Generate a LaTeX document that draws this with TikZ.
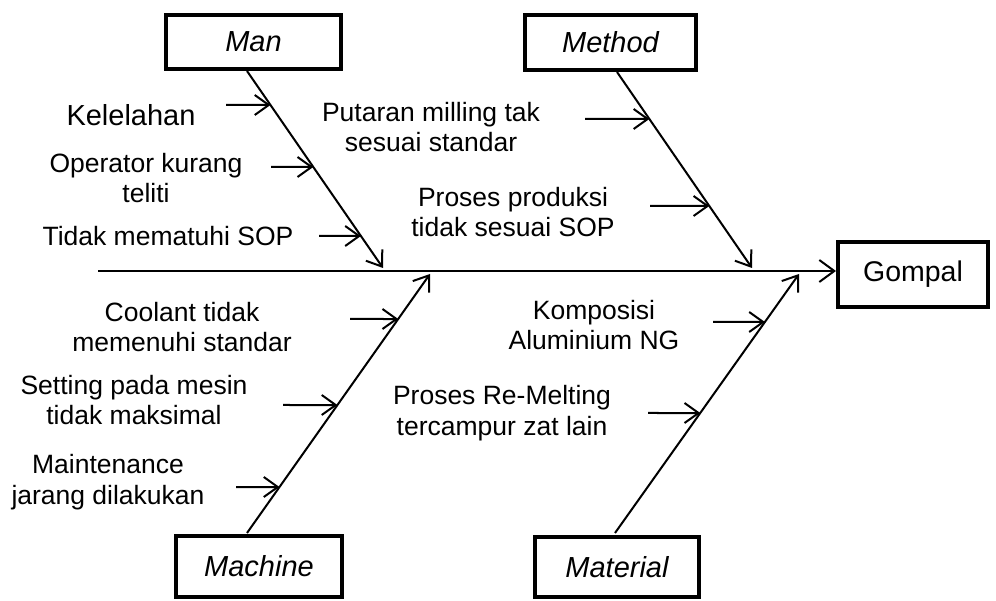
\documentclass[tikz,border=0pt]{standalone}
\usepackage{fontspec}
\setmainfont{Liberation Sans}
\usetikzlibrary{arrows.meta,calc}
\begin{document}
\begin{tikzpicture}[x=1pt,y=-1pt,
  catbox/.style={draw,line width=4pt,inner sep=0pt,font=\fontsize{29}{33}\selectfont\itshape},
  effbox/.style={draw,line width=4pt,inner sep=0pt,font=\fontsize{28.5}{33}\selectfont},
  lbl/.style={align=center,inner sep=0pt,font=\fontsize{26.5}{30.5}\selectfont},
  bigl/.style={align=center,inner sep=0pt,font=\fontsize{29}{33}\selectfont},
  bone/.style={line width=2pt,-{Straight Barb[length=14pt,width=20pt]}},
  spine/.style={line width=2pt,-{Straight Barb[length=15pt,width=22pt]}},
  ]
\useasboundingbox (0,0) rectangle (996,601);
% category boxes
\node[catbox,minimum width=175pt,minimum height=54pt] (man) at (253.5,42) {Man};
\node[catbox,minimum width=171pt,minimum height=55pt] (method) at (610.5,42.5) {Method};
\node[catbox,minimum width=166pt,minimum height=61pt] (machine) at (259,566.5) {Machine};
\node[catbox,minimum width=164pt,minimum height=60pt] (material) at (617,567) {Material};
\node[effbox,minimum width=150pt,minimum height=65pt] (gompal) at (913,274.5) {Gompal};
% spine
\coordinate (spineS) at (98,271);
\draw[spine] (spineS) -- (spineS -| gompal.west);
% bones
\coordinate (manS) at (247,71);
\coordinate (manE) at (383,268);
\coordinate (metS) at (617,72);
\coordinate (metE) at (752,268);
\coordinate (macS) at (247,533);
\coordinate (macE) at (430,274);
\coordinate (matS) at (615,533);
\coordinate (matE) at (799,274);
\draw[bone] (manS) -- (manE);
\draw[bone] (metS) -- (metE);
\draw[bone] (macS) -- (macE);
\draw[bone] (matS) -- (matE);
% cause arrows: Man
\coordinate (m1) at ($(manS)!{(105-71)/(268-71)}!(manE)$);
\coordinate (m2) at ($(manS)!{(167-71)/(268-71)}!(manE)$);
\coordinate (m3) at ($(manS)!{(236-71)/(268-71)}!(manE)$);
\coordinate (m1t) at (226,105);
\coordinate (m2t) at (271,167);
\coordinate (m3t) at (319,236);
\draw[bone] (m1t) -- (m1);
\draw[bone] (m2t) -- (m2);
\draw[bone] (m3t) -- (m3);
% Method
\coordinate (e1) at ($(metS)!{(119-72)/(268-72)}!(metE)$);
\coordinate (e2) at ($(metS)!{(206-72)/(268-72)}!(metE)$);
\coordinate (e1t) at (585,119);
\coordinate (e2t) at (650,206);
\draw[bone] (e1t) -- (e1);
\draw[bone] (e2t) -- (e2);
% Machine
\coordinate (c1) at ($(macS)!{(533-319)/(533-274)}!(macE)$);
\coordinate (c2) at ($(macS)!{(533-405)/(533-274)}!(macE)$);
\coordinate (c3) at ($(macS)!{(533-487)/(533-274)}!(macE)$);
\coordinate (c1t) at (350,319);
\coordinate (c2t) at (283,405);
\coordinate (c3t) at (236,487);
\draw[bone] (c1t) -- (c1);
\draw[bone] (c2t) -- (c2);
\draw[bone] (c3t) -- (c3);
% Material
\coordinate (t1) at ($(matS)!{(533-322)/(533-274)}!(matE)$);
\coordinate (t2) at ($(matS)!{(533-413)/(533-274)}!(matE)$);
\coordinate (t1t) at (713,322);
\coordinate (t2t) at (648,413);
\draw[bone] (t1t) -- (t1);
\draw[bone] (t2t) -- (t2);
% labels
\node[bigl] (kel) at (131,115) {Kelelahan};
\node[lbl] (ope) at (146,178) {Operator kurang\\teliti};
\node[lbl] (sop) at (168,236) {Tidak mematuhi SOP};
\node[lbl] (put) at (431,127) {Putaran milling tak\\sesuai standar};
\node[lbl] (pro) at (513,212) {Proses produksi\\tidak sesuai SOP};
\node[lbl] (coo) at (182,327) {Coolant tidak\\memenuhi standar};
\node[lbl] (set) at (134,400) {Setting pada mesin\\tidak maksimal};
\node[lbl] (mai) at (108,482) {Maintenance\\jarang dilakukan};
\node[lbl] (kom) at (594,325) {Komposisi\\Aluminium NG};
\node[lbl] (rem) at (502,413) {Proses Re-Melting\\tercampur zat lain};
\end{tikzpicture}
\end{document}
